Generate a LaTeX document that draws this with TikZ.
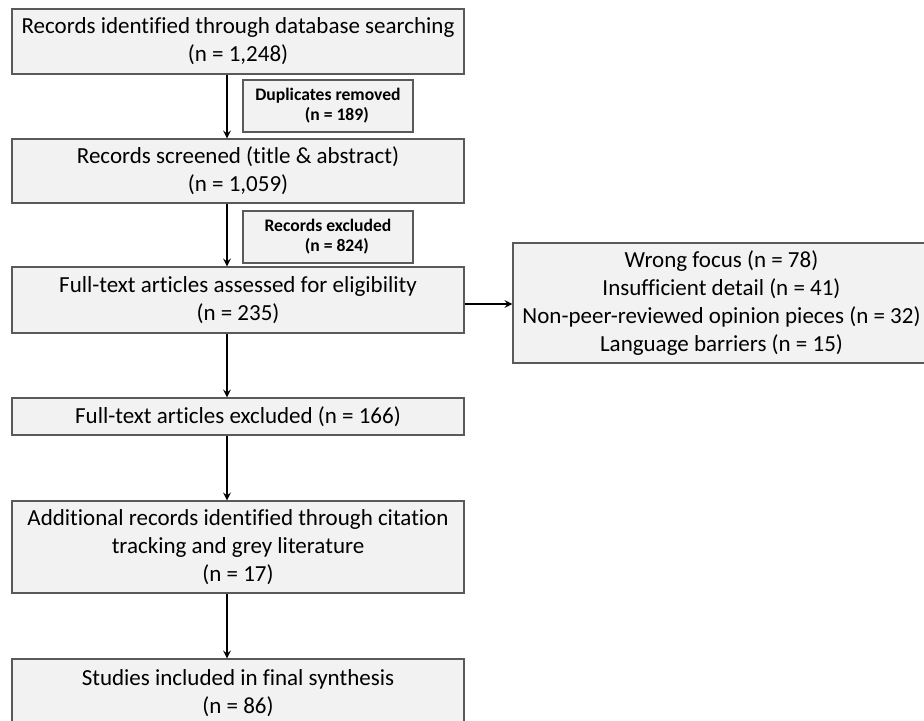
\documentclass[tikz,border=0pt]{standalone}
\usepackage{fontspec}
\setmainfont[Ligatures=CommonOff]{Carlito}
\definecolor{boxfill}{HTML}{F2F2F2}
\definecolor{boxline}{HTML}{5A5A5A}
\begin{document}
\begin{tikzpicture}[x=0.5pt, y=-0.5pt, >=stealth,
    box/.style={draw=boxline, fill=boxfill, line width=0.7pt, align=center, inner sep=0pt,
                minimum width=226pt, font=\fontsize{11.5}{14}\selectfont},
    note/.style={box, minimum width=85pt, minimum height=26pt, font=\fontsize{8.8}{10}\selectfont\bfseries},
    flow/.style={->, line width=0.7pt}]
    \clip (0,0) rectangle (924,720);
    \node[box, minimum height=32.5pt] (ident) at (238,41.5) {Records identified through database searching\\(n = 1,248)};
    \node[note] (dupl) at (328,106) {Duplicates removed\\\hspace*{1em}(n = 189)};
    \node[box, minimum height=32pt] (screen) at (238,171) {Records screened (title \& abstract)\\(n = 1,059)};
    \node[note] (recex) at (328,237) {Records excluded\\\hspace*{1em}(n = 824)};
    \node[box, minimum height=33pt] (full) at (238,300) {Full-text articles assessed for eligibility\\(n = 235)};
    \node[box, minimum width=208.5pt, minimum height=60pt] (reasons) at (721.5,303) {Wrong focus (n = 78)\\Insufficient detail (n = 41)\\Non-peer-reviewed opinion pieces (n = 32)\\Language barriers (n = 15)};
    \node[box, minimum height=18.5pt] (fullex) at (238,416.5) {Full-text articles excluded (n = 166)};
    \node[box, minimum height=46pt] (extra) at (238,547) {Additional records identified through citation\\tracking and grey literature\\(n = 17)};
    \node[box, minimum height=34pt] (incl) at (238,693) {Studies included in final synthesis\\(n = 86)};
    \draw[flow] ([xshift=-5.5pt]ident.south) -- ([xshift=-5.5pt]screen.north);
    \draw[flow] ([xshift=-5.5pt]screen.south) -- ([xshift=-5.5pt]full.north);
    \draw[flow] ([xshift=-5.5pt]full.south) -- ([xshift=-5.5pt]fullex.north);
    \draw[flow] ([xshift=-5.5pt]fullex.south) -- ([xshift=-5.5pt]extra.north);
    \draw[flow] ([xshift=-5.5pt]extra.south) -- ([xshift=-5.5pt]incl.north);
    \draw[flow] ([yshift=-2pt]full.east) -- ([yshift=-2pt]full.east -| reasons.west);
\end{tikzpicture}
\end{document}
